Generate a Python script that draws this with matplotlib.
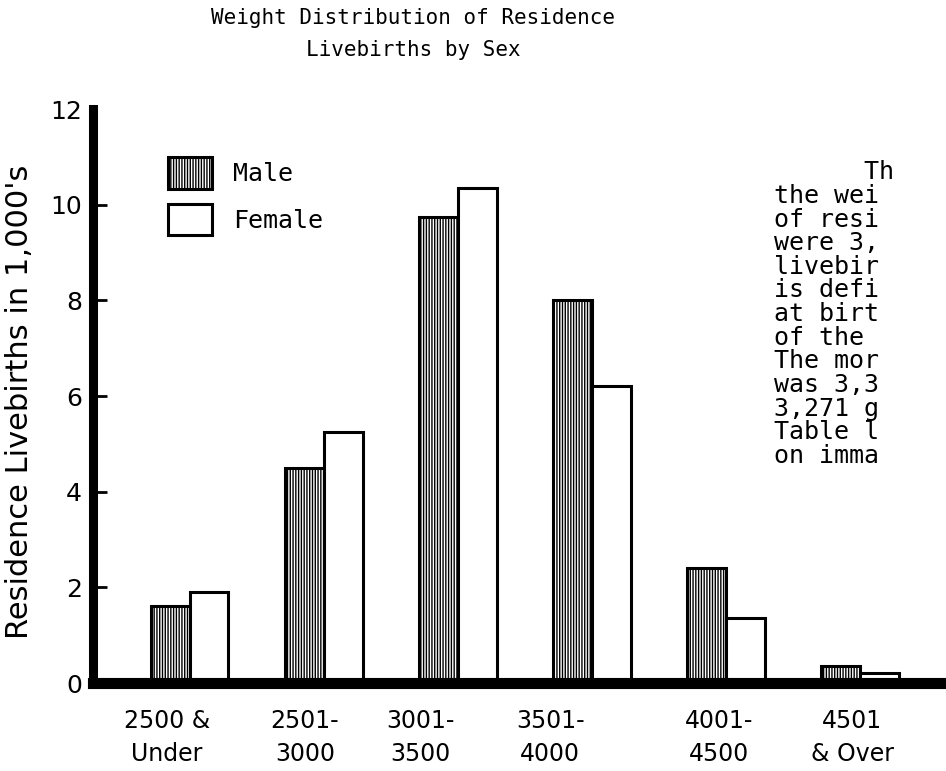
import numpy as np
import matplotlib.pyplot as plt

plt.rcParams['hatch.linewidth'] = 1.0

# data
categories = ['2500 &\nUnder', '2501-\n3000', '3001-\n3500', '3501-\n4000', '4001-\n4500', '4501\n& Over']
male = [1.6, 4.5, 9.75, 8.0, 2.4, 0.35]
female = [1.9, 5.25, 10.35, 6.2, 1.35, 0.2]
yticks = [0, 2, 4, 6, 8, 10, 12]
note_lines = ['      Th', 'the wei', 'of resi', 'were 3,', 'livebir', 'is defi',
              'at birt', 'of the', 'The mor', 'was 3,3', '3,271 g', 'Table l', 'on imma']

mono = 'DejaVu Sans Mono'

fig = plt.figure(figsize=(9.46, 7.71), dpi=100)
ax = fig.add_axes([0.0983, 0.1141, 0.9017, 0.7445])

x = np.arange(len(categories))
w = 0.29
ax.bar(x - w / 2, male, w, facecolor='white', edgecolor='black', linewidth=2.2,
       hatch='||||||', label='Male', zorder=2)
ax.bar(x + w / 2, female, w, facecolor='white', edgecolor='black', linewidth=2.2,
       label='Female', zorder=2)

ax.set_xlim(-0.72, 5.64)
ax.set_ylim(0, 12)

for s in ['top', 'right']:
    ax.spines[s].set_visible(False)
ax.spines['left'].set_linewidth(6.5)
ax.spines['bottom'].set_linewidth(8)
ax.spines['left'].set_zorder(3)
ax.spines['bottom'].set_zorder(3)

ax.set_yticks(yticks)
ax.set_yticklabels([str(t) for t in yticks], fontsize=18)
ax.tick_params(axis='y', direction='in', length=10, width=2, pad=8)
ax.yaxis.get_major_ticks()[0].tick1line.set_visible(False)
ax.yaxis.get_major_ticks()[-1].tick1line.set_visible(False)

# tick labels in the original sit a little left of the group centres
label_shift = [-0.17, -0.14, -0.28, -0.31, -0.05, -0.06]
ax.set_xticks(x + np.array(label_shift))
ax.set_xticklabels(categories, fontsize=17, linespacing=1.45)
ax.tick_params(axis='x', length=0, pad=19)

fig.text(0.021, 0.479, "Residence Livebirths in 1,000's", rotation=90,
         ha='center', va='center', fontsize=22)

leg = ax.legend(loc='upper left', bbox_to_anchor=(0.062, 0.955), frameon=False,
                prop={'family': mono, 'size': 18}, handlelength=1.75, handleheight=1.55,
                handletextpad=0.85, labelspacing=0.62)

fig.text(0.437, 0.99, 'Weight Distribution of Residence\nLivebirths by Sex',
         ha='center', va='top', family=mono, fontsize=15, linespacing=1.75)

fig.text(0.818, 0.792, '\n'.join(note_lines), family=mono, fontsize=18,
         va='top', linespacing=0.98)

fig.savefig('out.png', dpi=100)
